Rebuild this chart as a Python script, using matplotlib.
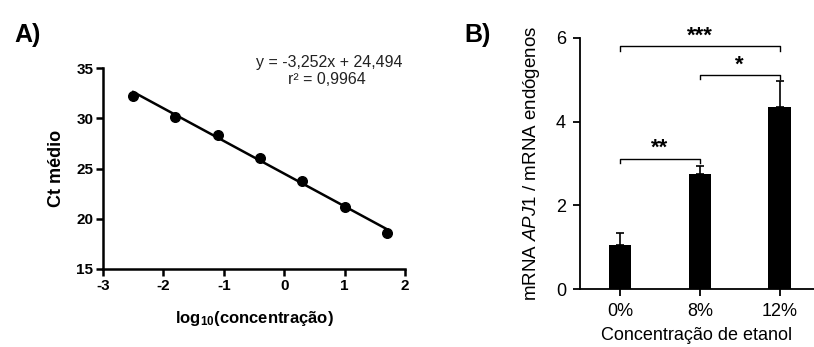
import matplotlib
matplotlib.use("Agg")
import matplotlib.pyplot as plt
import numpy as np

plt.rcParams['font.family'] = ['Liberation Sans', 'DejaVu Sans']
plt.rcParams['mathtext.fontset'] = 'custom'
plt.rcParams['mathtext.rm'] = 'Liberation Sans'
plt.rcParams['mathtext.it'] = 'Liberation Sans:italic'
plt.rcParams['mathtext.bf'] = 'Liberation Sans:bold'
plt.rcParams['axes.unicode_minus'] = False

# Panel A data
log_conc = [-2.5, -1.8, -1.1, -0.4, 0.3, 1.0, 1.7]
ct_mean = [32.25, 30.1, 28.3, 26.05, 23.75, 21.15, 18.6]
slope = -3.252
intercept = 24.494

# Panel B data
categories = ['0%', '8%', '12%']
bar_values = [1.06, 2.74, 4.36]
bar_errors = [0.28, 0.20, 0.61]
brackets = [(0, 1, 3.11, '**'), (1, 2, 5.11, '*'), (0, 2, 5.80, '***')]

fig = plt.figure(figsize=(8.14, 3.47), dpi=100)

# ---------- Panel A ----------
axA = fig.add_axes([0.1265, 0.2248, 0.371, 0.579])
axA.scatter(log_conc, ct_mean, s=48, color='black', zorder=3)
xl = np.array([min(log_conc), max(log_conc)])
axA.plot(xl, slope * xl + intercept, color='black', lw=1.8)
axA.set_xlim(-3, 2)
axA.set_ylim(15, 35)
axA.set_xticks([-3, -2, -1, 0, 1, 2])
axA.set_yticks([15, 20, 25, 30, 35])
for s in ['top', 'right']:
    axA.spines[s].set_visible(False)
for s in ['left', 'bottom']:
    axA.spines[s].set_linewidth(1.8)
axA.tick_params(direction='out', length=5, width=1.8, labelsize=11, pad=2)
for lab in axA.get_xticklabels() + axA.get_yticklabels():
    lab.set_fontweight('bold')
axA.set_ylabel('Ct médio', fontsize=13, fontweight='bold', labelpad=8)
axA.set_xlabel(r'log$_{\mathbf{10}}$(concentração)', fontsize=12,
               fontweight='bold', labelpad=12)
axA.text(0.993, 1.03, 'y = -3,252x + 24,494', transform=axA.transAxes,
         ha='right', va='center', fontsize=11.5, color='#222222')
axA.text(0.742, 0.945, 'r² = 0,9964', transform=axA.transAxes,
         ha='center', va='center', fontsize=11.5, color='#222222')
fig.text(0.018, 0.90, 'A)', fontsize=18, fontweight='heavy', va='center')

# ---------- Panel B ----------
axB = fig.add_axes([0.7125, 0.167, 0.2875, 0.7235])
x = np.arange(len(categories))
axB.bar(x, bar_values, width=0.28, color='black')
axB.errorbar(x, bar_values, yerr=[np.zeros(3), bar_errors], fmt='none',
             ecolor='black', elinewidth=1.2, capsize=3, capthick=1.2)
axB.set_xlim(-0.5, 2.43)
axB.set_ylim(0, 6)
axB.set_yticks([0, 2, 4, 6])
axB.set_xticks(x)
axB.set_xticklabels(categories)
for s in ['top', 'right']:
    axB.spines[s].set_visible(False)
for s in ['left', 'bottom']:
    axB.spines[s].set_linewidth(1.3)
axB.tick_params(direction='out', length=5, width=1.3, labelsize=13, pad=5)
axB.set_ylabel(r'mRNA $\mathit{APJ1}$ / mRNA endógenos', fontsize=13.5, labelpad=10)
axB.set_xlabel('Concentração de etanol', fontsize=13, labelpad=5)
for i0, i1, yb, star in brackets:
    h = 0.1
    axB.plot([i0, i0, i1, i1], [yb - h, yb, yb, yb - h], color='black', lw=1.0)
    axB.text((i0 + i1) / 2, yb + 0.0, star, ha='center', va='bottom',
             fontsize=16, fontweight='bold')
fig.text(0.571, 0.90, 'B)', fontsize=18, fontweight='heavy', va='center')

fig.savefig('out.png', dpi=100)
